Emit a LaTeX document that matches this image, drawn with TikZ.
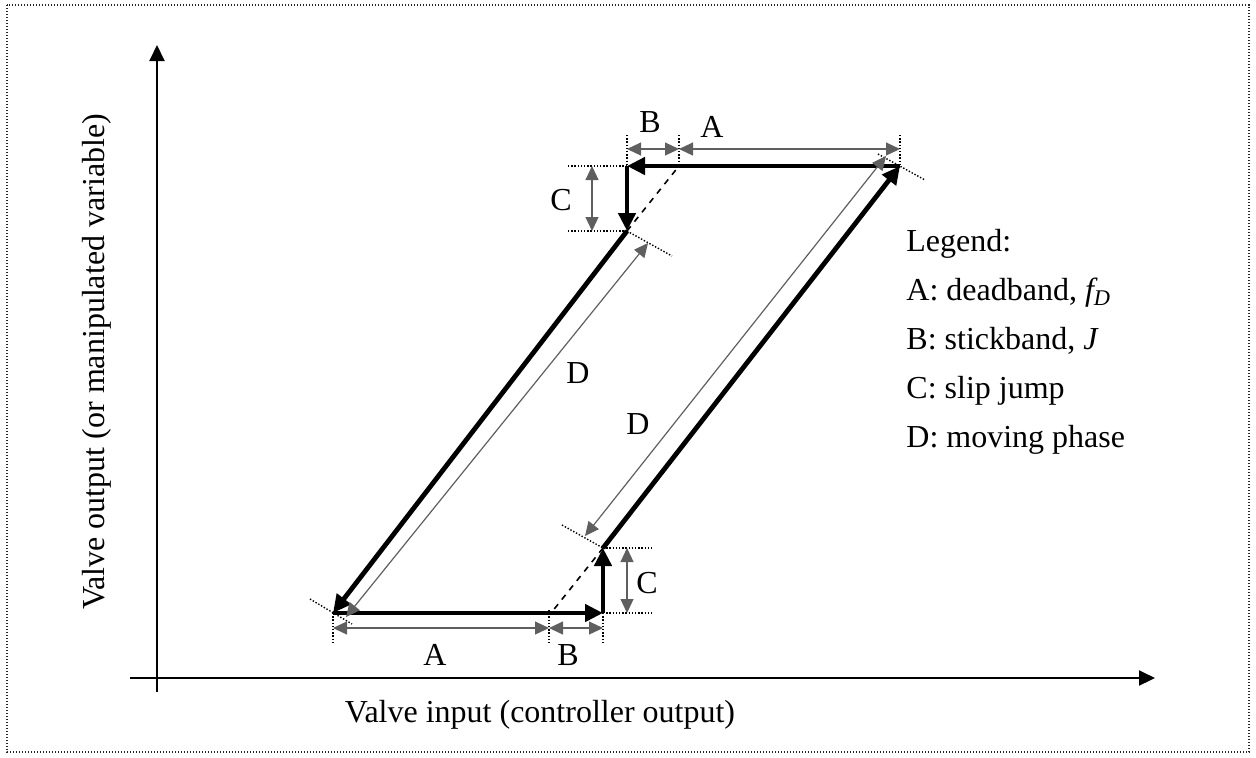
\documentclass[tikz,border=0pt]{standalone}
\usepackage{fontspec}
\setmainfont{Liberation Serif}
\usetikzlibrary{arrows.meta,calc}
\definecolor{dimgray}{RGB}{95,95,95}
\begin{document}
\begin{tikzpicture}[x=0.5pt,y=-0.5pt,
  thickline/.style={line width=2.4pt,-{Triangle[length=9pt,width=8.5pt]}},
  axisline/.style={line width=1pt,-{Triangle[length=8pt,width=7.5pt]}},
  dimline/.style={draw=dimgray,line width=0.6pt,{Triangle[length=7pt,width=6.5pt]}-{Triangle[length=7pt,width=6.5pt]}},
  guide/.style={line width=0.7pt,dash pattern=on 0.7pt off 0.9pt},
  dashline/.style={dashed,line width=0.8pt},
  lbl/.style={font=\fontsize{16}{19}\selectfont,inner sep=0pt},
  ]
\useasboundingbox (0,0) rectangle (1256,757);
% outer dotted frame
\draw[line width=0.7pt,dash pattern=on 0.7pt off 0.8pt,draw=black!85] (7,5) rectangle (1249,752);

% axes
\coordinate (yb) at (157,692);
\coordinate (yt) at (157,45);
\coordinate (xl) at (130,678);
\coordinate (xr) at (1155,678);
\draw[axisline] (yb) -- (yt);
\draw[axisline] (xl) -- (xr);
\node[lbl] (xlab) at (540,715) {Valve input (controller output)};
\node[lbl,rotate=90] (ylab) at (97,362) {Valve output (or manipulated variable)};

% corners
\coordinate (TR) at (900,166);
\coordinate (TL) at (627,166);
\coordinate (TLb) at (627,231);
\coordinate (BL) at (333,613);
\coordinate (BR) at (603,613);
\coordinate (BRt) at (603,548);
\coordinate (TD) at (679,166);
\coordinate (BD) at (551,613);

% dashed continuations
\draw[dashline] (TLb) -- (TD);
\draw[dashline] (BRt) -- (BD);

% guide lines (dotted)
\draw[guide] (627,135) -- (TL);
\draw[guide] (679,135) -- (679,170);
\draw[guide] (900,135) -- (TR);
\draw[guide] (568,166) -- (TL);
\draw[guide] (568,231) -- (TLb);
\draw[guide] (878,154) -- (925,180);
\draw[guide] (TLb) -- (672,256);
\draw[guide] (562,525) -- (BRt);
\draw[guide] (310,599) -- (352,624);
\draw[guide] (BL) -- (333,643);
\draw[guide] (549,610) -- (549,643);
\draw[guide] (BR) -- (603,643);
\draw[guide] (BRt) -- (652,548);
\draw[guide] (BR) -- (652,613);

% thick loop
\draw[thickline] (TR) -- (TL);
\draw[thickline] (TL) -- (TLb);
\draw[thickline] (TLb) -- (BL);
\draw[thickline] (BL) -- (BR);
\draw[thickline] (BR) -- (BRt);
\draw[thickline] (BRt) -- (TR);

% dimension lines
\coordinate (tB1) at (627,149);
\coordinate (tB2) at (679,149);
\coordinate (tA2) at (900,149);
\draw[dimline] (tB1) -- (tB2);
\draw[dimline] (tB2) -- (tA2);
\coordinate (bA1) at (333,628);
\coordinate (bB1) at (549,628);
\coordinate (bB2) at (603,628);
\draw[dimline] (bA1) -- (bB1);
\draw[dimline] (bB1) -- (bB2);
\coordinate (cT1) at (592,166);
\coordinate (cT2) at (592,231);
\draw[dimline] (cT1) -- (cT2);
\coordinate (cB1) at (627,548);
\coordinate (cB2) at (627,613);
\draw[dimline] (cB1) -- (cB2);
\coordinate (dR1) at (585,536);
\coordinate (dR2) at (886,156);
\draw[dimline] (dR1) -- (dR2);
\coordinate (dL1) at (648,243);
\coordinate (dL2) at (346,617);
\draw[dimline] (dL1) -- (dL2);

% labels
\node[lbl] (labBt) at (650,122) {B};
\node[lbl] (labAt) at (712,127) {A};
\node[lbl] (labCt) at (561,200) {C};
\node[lbl] (labAb) at (435,655) {A};
\node[lbl] (labBb) at (568,655) {B};
\node[lbl] (labCb) at (647,583) {C};
\node[lbl] (labDl) at (578,373) {D};
\node[lbl] (labDr) at (638,424) {D};

% legend
\node[lbl,anchor=base west] (leg0) at (906,251) {Legend:};
\node[lbl,anchor=base west] (leg1) at (906,300) {A: deadband, \textit{f\textsubscript{D}}};
\node[lbl,anchor=base west] (leg2) at (906,349) {B: stickband, \textit{J}};
\node[lbl,anchor=base west] (leg3) at (906,398) {C: slip jump};
\node[lbl,anchor=base west] (leg4) at (906,447) {D: moving phase};
\end{tikzpicture}
\end{document}
